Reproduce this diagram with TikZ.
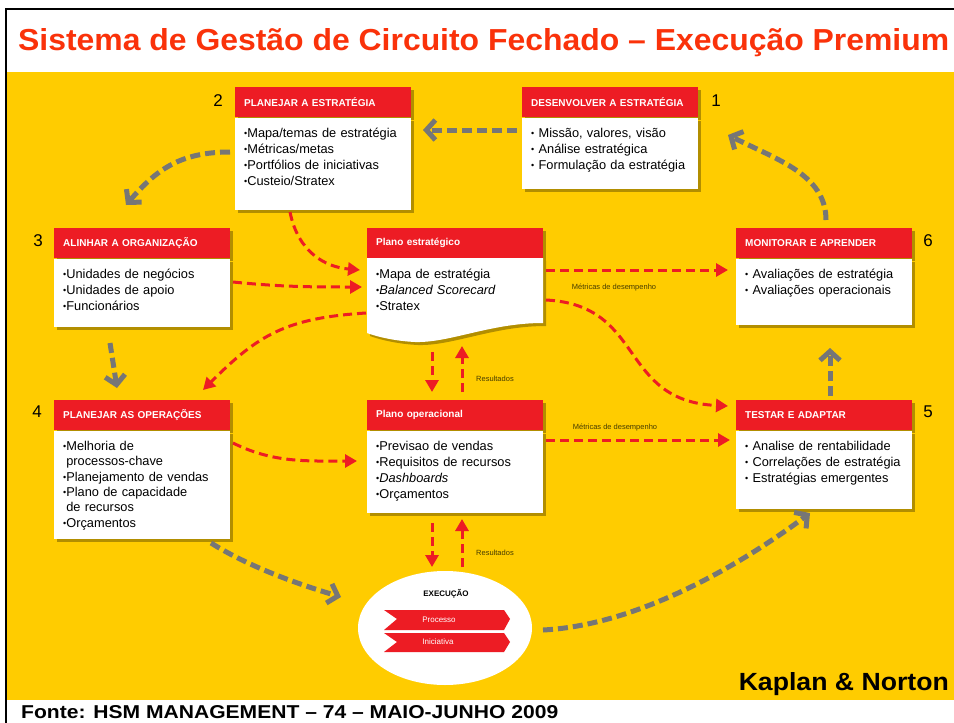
\documentclass[tikz,border=0pt]{standalone}
\usepackage{fontspec}
\usepackage{graphicx}
\setmainfont{Liberation Sans}
\usetikzlibrary{arrows.meta,shadows,shapes.geometric}
\definecolor{amarelo}{RGB}{255,204,0}
\definecolor{vermelho}{RGB}{237,28,36}
\definecolor{titulo}{RGB}{250,50,10}
\definecolor{cinza}{RGB}{118,118,118}
\definecolor{rotulo}{RGB}{70,60,0}
\newcommand{\bu}{{\fontsize{9}{9}\selectfont\raisebox{1pt}{•}}}
\tikzset{
  sombra/.style={drop shadow={shadow xshift=3pt,shadow yshift=-3pt,opacity=.3,fill=black}},
  cab/.style={anchor=north west, fill=vermelho, text=white, font=\fontsize{10}{12}\selectfont\bfseries, text width=158pt, inner xsep=9pt, minimum height=30pt, align=left, sombra},
  txt/.style={anchor=north west, font=\fontsize{12.8}{16}\selectfont, text width=158pt, inner xsep=9pt, inner ysep=8pt, text height=12pt, text depth=#1, align=left},
  bdy/.style={txt=#1, fill=white, sombra},
  num/.style={font=\fontsize{17}{20}\selectfont},
  lbl/.style={font=\fontsize{7.5}{9}\selectfont, text=rotulo},
  cinzaseta/.style={draw=cinza, line width=5pt, dash pattern=on 10pt off 5pt, -{Straight Barb[length=9pt,width=20pt]}},
  vermseta/.style={draw=vermelho, line width=3pt, dash pattern=on 9pt off 5pt, -{Triangle[length=12pt,width=13pt]}}
}
\begin{document}
\begin{tikzpicture}[x=1pt,y=-1pt]
\useasboundingbox (0,0) rectangle (954,723);
\fill[white] (0,0) rectangle (954,723);
\fill[amarelo] (6,72) rectangle (954,700);
\draw[line width=2pt] (6,723) -- (6,9) -- (954,9);
\node[anchor=base west, inner sep=0, text=titulo] (tit) at (18,50) {\resizebox{931pt}{22pt}{\bfseries Sistema de Gestão de Circuito Fechado – Execução Premium}};
\node[anchor=base east, inner sep=0] (kn) at (949,690) {\resizebox{210pt}{18pt}{\bfseries Kaplan \& Norton}};
\node[anchor=base west, inner sep=0] (fonte) at (21,718) {\resizebox{537pt}{13pt}{\bfseries Fonte: HSM MANAGEMENT – 74 – MAIO-JUNHO 2009}};

\node[cab] (des) at (522,87) {DESENVOLVER A ESTRATÉGIA};
\node[bdy=43pt] (desb) at (des.south west) {\bu{} Missão, valores, visão\\\bu{} Análise estratégica\\\bu{} Formulação da estratégia};
\node[cab] (pla) at (235,87) {PLANEJAR A ESTRATÉGIA};
\node[bdy=64pt] (plab) at (pla.south west) {\bu Mapa/temas de estratégia\\\bu Métricas/metas\\\bu Portfólios de iniciativas\\\bu Custeio/Stratex};
\node[cab] (ali) at (54,228) {ALINHAR A ORGANIZAÇÃO};
\node[bdy=40pt] (alib) at (ali.south west) {\bu Unidades de negócios\\\bu Unidades de apoio\\\bu Funcionários};
\node[cab] (ope) at (54,400) {PLANEJAR AS OPERAÇÕES};
\node[bdy=80pt, font=\fontsize{12.8}{15.3}\selectfont] (opeb) at (ope.south west) {\bu Melhoria de\\\hphantom{\bu}processos-chave\\\bu Planejamento de vendas\\\bu Plano de capacidade\\\hphantom{\bu}de recursos\\\bu Orçamentos};
\node[cab] (tes) at (736,400) {TESTAR E ADAPTAR};
\node[bdy=50pt] (tesb) at (tes.south west) {\bu{} Analise de rentabilidade\\\bu{} Correlações de estratégia\\\bu{} Estratégias emergentes};
\node[cab] (mon) at (736,228) {MONITORAR E APRENDER};
\node[bdy=38pt] (monb) at (mon.south west) {\bu{} Avaliações de estratégia\\\bu{} Avaliações operacionais};

\node[cab] (pe) at (367,228) {Plano estratégico};
\fill[white, sombra] (367,258) -- (543,258) -- (543,323) .. controls (490,323) and (450,343) .. (415,342) .. controls (395,341) and (378,337) .. (367,333) -- cycle;
\node[txt=38pt] (peb) at (pe.south west) {\bu Mapa de estratégia\\\bu\textit{Balanced Scorecard}\\\bu Stratex};
\node[cab] (po) at (367,400) {Plano operacional};
\node[bdy=54pt] (pob) at (po.south west) {\bu Previsao de vendas\\\bu Requisitos de recursos\\\bu\textit{Dashboards}\\\bu Orçamentos};

\node[num] (n1) at (716,101) {1};
\node[num] (n2) at (218,101) {2};
\node[num] (n3) at (38,241) {3};
\node[num] (n4) at (37,412) {4};
\node[num] (n5) at (928,412) {5};
\node[num] (n6) at (928,241) {6};

\node[ellipse, fill=white, minimum width=174pt, minimum height=114pt] (exe) at (445,628) {};
\node[font=\fontsize{8}{9}\selectfont\bfseries] (exet) at (446,594) {EXECUÇÃO};
\fill[vermelho] (384,610) -- (504,610) -- (510,619) -- (504,630) -- (384,630) -- (397,619) -- cycle;
\fill[vermelho] (384,633) -- (504,633) -- (510,642) -- (504,652) -- (384,652) -- (397,642) -- cycle;
\node[text=white, font=\fontsize{8}{9}\selectfont] (proc) at (439,620) {Processo};
\node[text=white, font=\fontsize{8}{9}\selectfont] (inic) at (438,642) {Iniciativa};

\node[lbl] (met1) at (614,288) {Métricas de desempenho};
\node[lbl] (met2) at (615,428) {Métricas de desempenho};
\node[lbl] (res1) at (495,379) {Resultados};
\node[lbl] (res2) at (495,553) {Resultados};

\coordinate (g1i) at (517,130);
\coordinate (g1f) at (423,130);
\coordinate (g2i) at (230,152);
\coordinate (g2f) at (126,205);
\coordinate (g3i) at (110,343);
\coordinate (g3f) at (117,388);
\coordinate (g4i) at (211,543);
\coordinate (g4f) at (341,597);
\coordinate (g5i) at (543,630);
\coordinate (g5f) at (810,513);
\coordinate (g6i) at (830,396);
\coordinate (g6f) at (830,348);
\coordinate (g7i) at (826,220);
\coordinate (g7f) at (728,135);
\draw[cinzaseta] (g1i) -- (g1f);
\draw[cinzaseta] (g2i) .. controls +(-50,0) and +(30,-35) .. (g2f);
\draw[cinzaseta] (g3i) -- (g3f);
\draw[cinzaseta] (g4i) .. controls +(40,25) and +(-40,-12) .. (g4f);
\draw[cinzaseta] (g5i) .. controls +(100,-5) and +(-60,45) .. (g5f);
\draw[cinzaseta] (g6i) -- (g6f);
\draw[cinzaseta] (g7i) .. controls +(0,-45) and +(50,25) .. (g7f);

\coordinate (r1i) at (290,212);
\coordinate (r1f) at (360,270);
\coordinate (r2i) at (233,282);
\coordinate (r2f) at (362,287);
\coordinate (r3i) at (366,313);
\coordinate (r3f) at (203,390);
\coordinate (r4i) at (546,270);
\coordinate (r4f) at (728,270);
\coordinate (r5i) at (546,300);
\coordinate (r5f) at (728,406);
\coordinate (r6i) at (432,352);
\coordinate (r6f) at (432,392);
\coordinate (r7i) at (462,392);
\coordinate (r7f) at (462,346);
\coordinate (r8i) at (233,443);
\coordinate (r8f) at (357,461);
\coordinate (r9i) at (546,440);
\coordinate (r9f) at (730,440);
\coordinate (r10i) at (432,523);
\coordinate (r10f) at (432,567);
\coordinate (r11i) at (462,567);
\coordinate (r11f) at (462,519);
\draw[vermseta] (r1i) .. controls +(8,40) and +(-35,-3) .. (r1f);
\draw[vermseta] (r2i) .. controls +(50,5) and +(-50,0) .. (r2f);
\draw[vermseta] (r3i) .. controls +(-80,5) and +(55,-55) .. (r3f);
\draw[vermseta] (r4i) -- (r4f);
\draw[vermseta] (r5i) .. controls +(100,5) and +(-110,-5) .. (r5f);
\draw[vermseta] (r6i) -- (r6f);
\draw[vermseta] (r7i) -- (r7f);
\draw[vermseta] (r8i) .. controls +(40,20) and +(-50,0) .. (r8f);
\draw[vermseta] (r9i) -- (r9f);
\draw[vermseta] (r10i) -- (r10f);
\draw[vermseta] (r11i) -- (r11f);
\end{tikzpicture}
\end{document}
